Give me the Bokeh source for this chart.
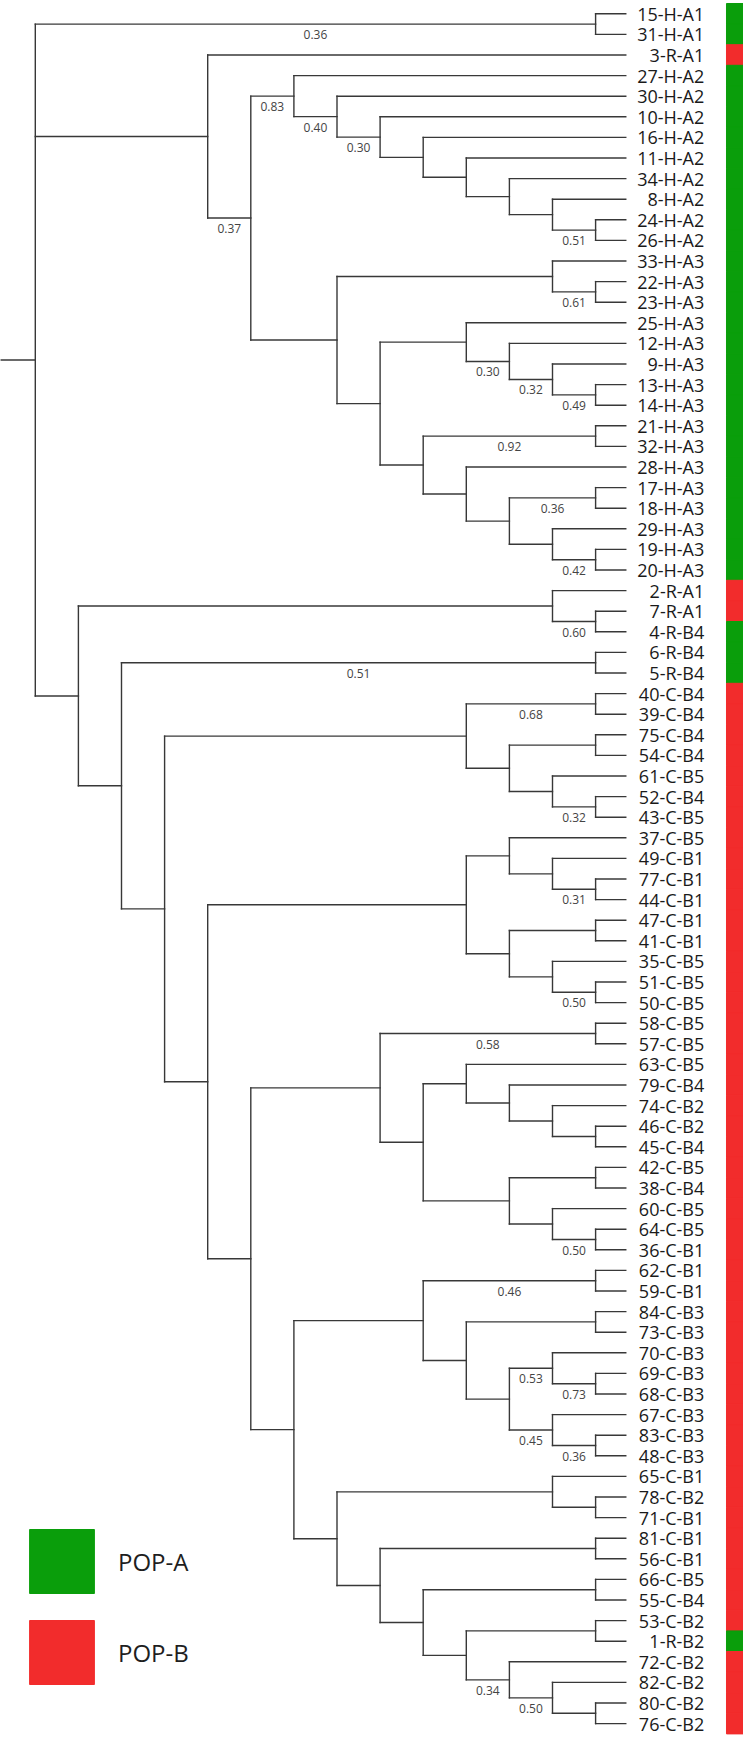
from bokeh.plotting import figure
from bokeh.models import Range1d, ColumnDataSource, Legend, LegendItem
from bokeh.embed import file_html
from bokeh.resources import INLINE
from bokeh.core.properties import value

# ---------------- data ----------------
leaves = [
    "15-H-A1", "31-H-A1", "3-R-A1", "27-H-A2", "30-H-A2", "10-H-A2", "16-H-A2",
    "11-H-A2", "34-H-A2", "8-H-A2", "24-H-A2", "26-H-A2", "33-H-A3", "22-H-A3",
    "23-H-A3", "25-H-A3", "12-H-A3", "9-H-A3", "13-H-A3", "14-H-A3", "21-H-A3",
    "32-H-A3", "28-H-A3", "17-H-A3", "18-H-A3", "29-H-A3", "19-H-A3", "20-H-A3",
    "2-R-A1", "7-R-A1", "4-R-B4", "6-R-B4", "5-R-B4", "40-C-B4", "39-C-B4",
    "75-C-B4", "54-C-B4", "61-C-B5", "52-C-B4", "43-C-B5", "37-C-B5", "49-C-B1",
    "77-C-B1", "44-C-B1", "47-C-B1", "41-C-B1", "35-C-B5", "51-C-B5", "50-C-B5",
    "58-C-B5", "57-C-B5", "63-C-B5", "79-C-B4", "74-C-B2", "46-C-B2", "45-C-B4",
    "42-C-B5", "38-C-B4", "60-C-B5", "64-C-B5", "36-C-B1", "62-C-B1", "59-C-B1",
    "84-C-B3", "73-C-B3", "70-C-B3", "69-C-B3", "68-C-B3", "67-C-B3", "83-C-B3",
    "48-C-B3", "65-C-B1", "78-C-B2", "71-C-B1", "81-C-B1", "56-C-B1", "66-C-B5",
    "55-C-B4", "53-C-B2", "1-R-B2", "72-C-B2", "82-C-B2", "80-C-B2", "76-C-B2",
]

# population of each leaf (colour strip), same order as leaves
leaf_pop = (["POP-A"] * 2 + ["POP-B"] + ["POP-A"] * 25 + ["POP-B"] * 2 +
            ["POP-A"] * 3 + ["POP-B"] * 46 + ["POP-A"] + ["POP-B"] * 4)

pop_names = ["POP-A", "POP-B"]
pop_colors = ["#0a9e0b", "#f22c2c"]


def N(level, children, support=""):
    return {"level": level, "children": children, "support": support}


# cladogram: node level (depth rank) and support value of the branch above it
tree = N(0, [
    N(13, ["15-H-A1", "31-H-A1"], "0.36"),
    N(4, ["3-R-A1",
          N(5, [
              N(6, ["27-H-A2",
                    N(7, ["30-H-A2",
                          N(8, ["10-H-A2",
                                N(9, ["16-H-A2",
                                      N(10, ["11-H-A2",
                                             N(11, ["34-H-A2",
                                                    N(12, ["8-H-A2",
                                                           N(13, ["24-H-A2", "26-H-A2"], "0.51")])])])])],
                            "0.30")],
                      "0.40")],
                "0.83"),
              N(7, [
                  N(12, ["33-H-A3", N(13, ["22-H-A3", "23-H-A3"], "0.61")]),
                  N(8, [
                      N(10, ["25-H-A3",
                             N(11, ["12-H-A3",
                                    N(12, ["9-H-A3",
                                           N(13, ["13-H-A3", "14-H-A3"], "0.49")], "0.32")], "0.30")]),
                      N(9, [
                          N(13, ["21-H-A3", "32-H-A3"], "0.92"),
                          N(10, ["28-H-A3",
                                 N(11, [
                                     N(13, ["17-H-A3", "18-H-A3"], "0.36"),
                                     N(12, ["29-H-A3", N(13, ["19-H-A3", "20-H-A3"], "0.42")]),
                                 ])]),
                      ]),
                  ]),
              ]),
          ], "0.37")]),
    N(1, [
        N(12, ["2-R-A1", N(13, ["7-R-A1", "4-R-B4"], "0.60")]),
        N(2, [
            N(13, ["6-R-B4", "5-R-B4"], "0.51"),
            N(3, [
                N(10, [
                    N(13, ["40-C-B4", "39-C-B4"], "0.68"),
                    N(11, [N(13, ["75-C-B4", "54-C-B4"]),
                           N(12, ["61-C-B5", N(13, ["52-C-B4", "43-C-B5"], "0.32")])]),
                ]),
                N(4, [
                    N(10, [
                        N(11, ["37-C-B5", N(12, ["49-C-B1", N(13, ["77-C-B1", "44-C-B1"], "0.31")])]),
                        N(11, [N(13, ["47-C-B1", "41-C-B1"]),
                               N(12, ["35-C-B5", N(13, ["51-C-B5", "50-C-B5"], "0.50")])]),
                    ]),
                    N(5, [
                        N(8, [
                            N(13, ["58-C-B5", "57-C-B5"], "0.58"),
                            N(9, [
                                N(10, ["63-C-B5",
                                       N(11, ["79-C-B4",
                                              N(12, ["74-C-B2", N(13, ["46-C-B2", "45-C-B4"])])])]),
                                N(11, [N(13, ["42-C-B5", "38-C-B4"]),
                                       N(12, ["60-C-B5", N(13, ["64-C-B5", "36-C-B1"], "0.50")])]),
                            ]),
                        ]),
                        N(6, [
                            N(9, [
                                N(13, ["62-C-B1", "59-C-B1"], "0.46"),
                                N(10, [
                                    N(13, ["84-C-B3", "73-C-B3"]),
                                    N(11, [
                                        N(12, ["70-C-B3", N(13, ["69-C-B3", "68-C-B3"], "0.73")], "0.53"),
                                        N(12, ["67-C-B3", N(13, ["83-C-B3", "48-C-B3"], "0.36")], "0.45"),
                                    ]),
                                ]),
                            ]),
                            N(7, [
                                N(12, ["65-C-B1", N(13, ["78-C-B2", "71-C-B1"])]),
                                N(8, [
                                    N(13, ["81-C-B1", "56-C-B1"]),
                                    N(9, [
                                        N(13, ["66-C-B5", "55-C-B4"]),
                                        N(10, [
                                            N(13, ["53-C-B2", "1-R-B2"]),
                                            N(11, ["72-C-B2",
                                                   N(12, ["82-C-B2", N(13, ["80-C-B2", "76-C-B2"])], "0.50")],
                                              "0.34"),
                                        ]),
                                    ]),
                                ]),
                            ]),
                        ]),
                    ]),
                ]),
            ]),
        ]),
    ]),
])

root_stub_level = -0.8
tip_level = 13.7

# ---------------- geometry from the tree ----------------
leaf_index = {name: i for i, name in enumerate(leaves)}
hx0, hx1, hy = [], [], []
vx, vy0, vy1 = [], [], []
sx, sy, st = [], [], []


def walk(node, parent_level):
    if isinstance(node, str):
        y = leaf_index[node]
        hx0.append(parent_level); hx1.append(tip_level); hy.append(y)
        return y
    ys = [walk(c, node["level"]) for c in node["children"]]
    y = (min(ys) + max(ys)) / 2.0
    vx.append(node["level"]); vy0.append(min(ys)); vy1.append(max(ys))
    hx0.append(parent_level); hx1.append(node["level"]); hy.append(y)
    if node["support"]:
        sx.append((parent_level + node["level"]) / 2.0)
        sy.append(y)
        st.append(node["support"])
    return y


walk(tree, root_stub_level)

# ---------------- figure ----------------
PX_LEVEL = 43.1
PX_LEAF = 20.6
W, H = 743, 1739
x0 = -34.8 / PX_LEVEL
y_top = -13.3 / PX_LEAF

p = figure(width=W, height=H,
           x_range=Range1d(x0, x0 + W / PX_LEVEL),
           y_range=Range1d(y_top + H / PX_LEAF, y_top),
           output_backend="svg", toolbar_location=None,
           x_axis_location=None, y_axis_location=None,
           min_border=0, outline_line_color=None)
p.grid.visible = False
p.background_fill_color = "white"

line_col = "#383838"
p.segment(x0=hx0, y0=hy, x1=hx1, y1=hy, line_color=line_col, line_width=1.4, line_cap="square")
p.segment(x0=vx, y0=vy0, x1=vx, y1=vy1, line_color=line_col, line_width=1.4, line_cap="square")

# support values
p.text(x=sx, y=sy, text=st, text_align="center", text_baseline="middle",
       y_offset=10.5, text_font=value("Open Sans"), text_font_size="12px",
       text_color="#444444")

# leaf labels
p.text(x=[tip_level] * len(leaves), y=list(range(len(leaves))), text=leaves,
       text_align="right", text_baseline="middle", x_offset=78.5,
       text_font=value("Open Sans"), text_font_size="18px", text_color="#1a1a1a")

# population strip
cmap = dict(zip(pop_names, pop_colors))
bar_src = ColumnDataSource(dict(
    top=[i - 0.5 for i in range(len(leaves))],
    bottom=[i + 0.5 for i in range(len(leaves))],
    color=[cmap[v] for v in leaf_pop],
))
bar = p.quad(left=16.037, right=16.8, top="top", bottom="bottom",
             fill_color="color", line_color="color", line_width=1, source=bar_src)

first = {name: leaf_pop.index(name) for name in pop_names}
legend = Legend(items=[LegendItem(label=name, renderers=[bar], index=first[name]) for name in pop_names],
                location=(21, 47), orientation="vertical",
                glyph_width=81, glyph_height=80, spacing=11, label_standoff=16,
                padding=0, margin=0, border_line_color=None, background_fill_alpha=0,
                label_text_font="Open Sans", label_text_font_size="24px",
                label_text_color="#1e1e1e")
p.add_layout(legend)

open("out.html", "w").write(file_html(p, INLINE))
